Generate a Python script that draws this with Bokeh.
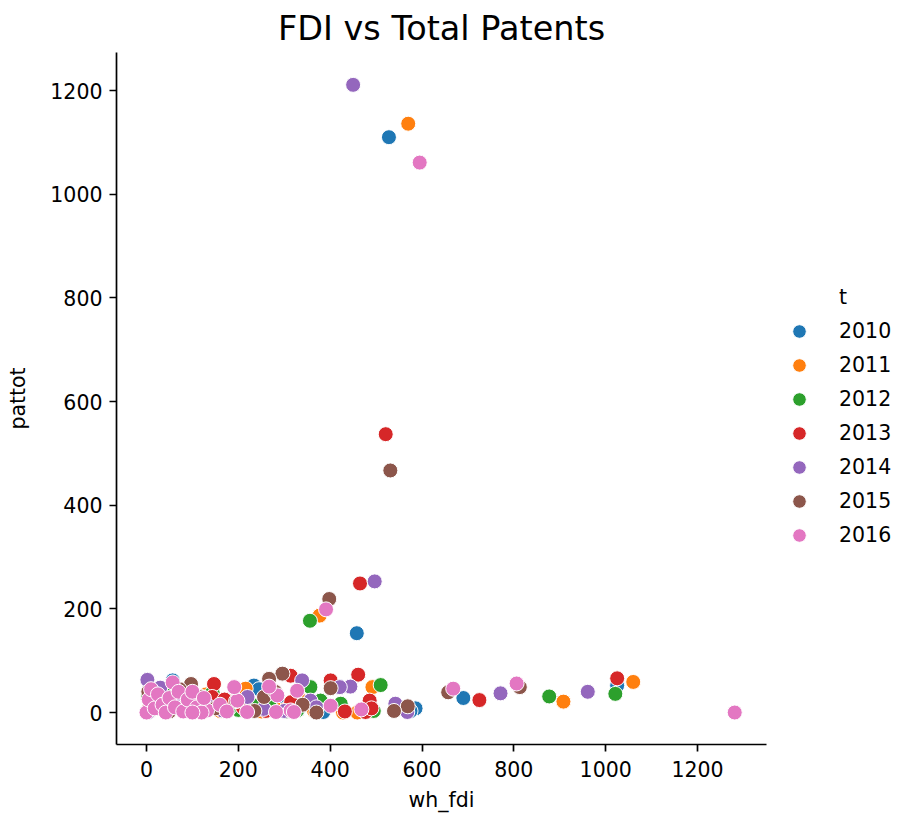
from bokeh.plotting import figure
from bokeh.models import Range1d, FixedTicker, Legend, LegendItem
from bokeh.embed import file_html
from bokeh.resources import INLINE

years = ["2010", "2011", "2012", "2013", "2014", "2015", "2016"]
colors = ["#1f77b4", "#ff7f0e", "#2ca02c", "#d62728", "#9467bd", "#8c564b", "#e377c2"]

fdi_2010 = [528, 458, 586, 690, 1025, 421, 234, 57, 385, 575, 12, 25, 40, 70, 95, 110, 140, 175, 205, 245, 290, 330, 5, 18]
pat_2010 = [1110, 153, 8, 28, 52, 49, 52, 62, 1, 3, 5, 20, 8, 30, 12, 4, 10, 3, 6, 45, 15, 5, 2, 35]

fdi_2011 = [570, 377, 1060, 908, 492, 216, 428, 459, 485, 330, 300, 8, 22, 35, 55, 78, 105, 130, 160, 190, 250, 280, 365, 15]
pat_2011 = [1136, 187, 59, 21, 49, 46, 0, 0, 2, 30, 5, 4, 15, 30, 8, 20, 6, 35, 3, 12, 2, 8, 3, 45]

fdi_2012 = [356, 877, 1021, 510, 357, 144, 423, 379, 328, 495, 270, 10, 28, 45, 68, 90, 115, 150, 200, 230, 305, 3, 60, 180]
pat_2012 = [177, 31, 36, 53, 49, 39, 17, 23, 4, 3, 10, 6, 18, 3, 25, 10, 2, 20, 5, 15, 2, 30, 40, 8]

fdi_2013 = [521, 465, 1025, 725, 461, 401, 314, 147, 143, 486, 477, 432, 490, 315, 6, 20, 38, 52, 75, 98, 125, 170, 210, 260]
pat_2013 = [537, 249, 66, 24, 73, 62, 71, 55, 30, 23, 1, 2, 8, 20, 8, 30, 12, 4, 35, 15, 6, 25, 10, 3]

fdi_2014 = [450, 497, 961, 771, 568, 542, 339, 444, 357, 2, 421, 30, 15, 48, 65, 85, 108, 135, 165, 220, 255, 300, 370, 3]
pat_2014 = [1211, 253, 40, 37, 1, 17, 62, 50, 23, 63, 49, 48, 20, 8, 30, 5, 20, 12, 4, 30, 7, 3, 10, 0]

fdi_2015 = [531, 398, 813, 657, 569, 539, 401, 370, 296, 267, 256, 97, 4, 18, 33, 50, 72, 88, 120, 150, 195, 235, 280, 340]
pat_2015 = [467, 219, 49, 39, 12, 3, 47, 0, 75, 65, 30, 55, 40, 12, 25, 2, 45, 18, 30, 8, 22, 3, 40, 15]

fdi_2016 = [595, 391, 1281, 806, 668, 401, 468, 328, 314, 321, 282, 285, 219, 198, 191, 132, 57, 267,
            0, 5, 10, 18, 25, 35, 42, 50, 62, 70, 80, 90, 100, 110, 120, 125, 160, 175, 100]
pat_2016 = [1061, 199, 0, 56, 46, 13, 6, 42, 4, 1, 1, 33, 1, 23, 49, 4, 58, 50,
            0, 25, 45, 8, 35, 15, 0, 28, 10, 40, 2, 25, 40, 10, 0, 28, 15, 2, 0]

fdi = [fdi_2010, fdi_2011, fdi_2012, fdi_2013, fdi_2014, fdi_2015, fdi_2016]
pat = [pat_2010, pat_2011, pat_2012, pat_2013, pat_2014, pat_2015, pat_2016]

x_ticks = [0, 200, 400, 600, 800, 1000, 1200]
y_ticks = [0, 200, 400, 600, 800, 1000, 1200]

FONT = "DejaVu Sans"

p = figure(frame_width=650, frame_height=692, min_border_left=116, min_border_top=52,
           min_border_right=133, min_border_bottom=20,
           x_range=Range1d(-65.3, 1350.2), y_range=Range1d(-61.7, 1273.4),
           output_backend="svg", toolbar_location=None, tools="")
p.outline_line_color = None
p.xgrid.visible = False
p.ygrid.visible = False
p.background_fill_color = "white"
p.border_fill_color = "white"

p.title.text = "FDI vs Total Patents"
p.title.align = "center"
p.title.text_font = FONT
p.title.text_font_size = "33.5px"
p.title.text_font_style = "normal"
p.title.text_color = "black"

for ax, ticks, lab in ((p.xaxis[0], x_ticks, "wh_fdi"), (p.yaxis[0], y_ticks, "pattot")):
    ax.ticker = FixedTicker(ticks=ticks)
    ax.axis_label = lab
    ax.axis_label_text_font = FONT
    ax.axis_label_text_font_size = "20.5px"
    ax.axis_label_text_font_style = "normal"
    ax.axis_label_text_color = "black"
    ax.major_label_text_font = FONT
    ax.major_label_text_font_size = "20.5px"
    ax.major_label_text_color = "black"
    ax.axis_line_color = "black"
    ax.axis_line_width = 1.7
    ax.major_tick_line_color = "black"
    ax.major_tick_line_width = 1.7
    ax.major_tick_out = 7
    ax.major_tick_in = 0
    ax.minor_tick_out = 0
    ax.minor_tick_in = 0
    ax.major_label_standoff = 7
p.xaxis[0].major_label_standoff = 9
p.yaxis[0].axis_label_standoff = 17
p.xaxis[0].axis_label_standoff = 8

# legend header row "t" (hue variable name), drawn with an invisible glyph
header = p.scatter([], [], size=15, fill_alpha=0, line_alpha=0)
items = [LegendItem(label="t", renderers=[header])]
for yr, c, xs, ys in zip(years, colors, fdi, pat):
    r = p.scatter(xs, ys, size=15, fill_color=c, line_color="white", line_width=1)
    items.append(LegendItem(label=yr, renderers=[r]))

legend = Legend(items=items, location=(14, 192), padding=0, margin=0,
                glyph_width=38, glyph_height=34, label_height=34, spacing=0,
                label_standoff=21, label_text_font=FONT, label_text_font_size="20.5px",
                label_text_color="black", border_line_color=None,
                background_fill_alpha=0)
p.add_layout(legend, "right")

open("out.html", "w").write(file_html(p, INLINE))
